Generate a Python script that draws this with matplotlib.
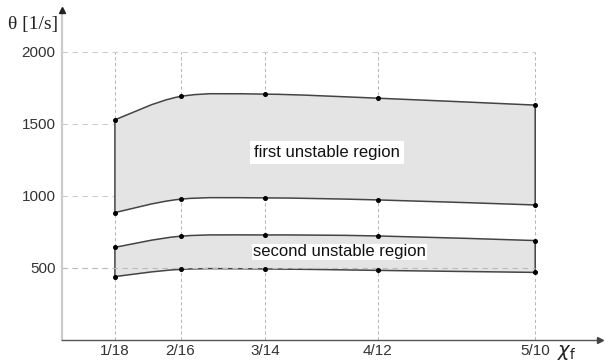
import numpy as np
import matplotlib.pyplot as plt
from matplotlib.path import Path
from matplotlib.patches import PathPatch

# x positions are the ratio values, labels are the fractions
x_labels = ["1/18", "2/16", "3/14", "4/12", "5/10"]
x_vals = [1/18, 2/16, 3/14, 4/12, 5/10]

first_upper = [1528, 1690, 1706, 1678, 1630]
first_lower = [884, 977, 986, 972, 937]
second_upper = [643, 720, 729, 722, 690]
second_lower = [440, 490, 493, 483, 469]

y_ticks = [500, 1000, 1500, 2000]


# smooth curve through the points (catmull-rom as bezier path segments)
def smooth_verts(xs, ys):
    p = np.column_stack([xs, ys]).astype(float)
    ext = np.vstack([p[0], p, p[-1]])
    verts = [p[0]]
    codes = []
    for i in range(len(p) - 1):
        p0, p1, p2, p3 = ext[i], ext[i+1], ext[i+2], ext[i+3]
        c1 = p1 + (p2 - p0) / 6
        c2 = p2 - (p3 - p1) / 6
        verts += [c1, c2, p2]
        codes += [Path.CURVE4] * 3
    return verts, codes


def region(ax, upper, lower):
    vu, cu = smooth_verts(x_vals, upper)
    vl, cl = smooth_verts(x_vals[::-1], lower[::-1])
    verts = vu + vl + [vu[0]]
    codes = [Path.MOVETO] + cu + [Path.LINETO] + cl + [Path.CLOSEPOLY]
    patch = PathPatch(Path(verts, codes), facecolor="#e4e4e4",
                      edgecolor="#444444", lw=1.1, zorder=2)
    ax.add_patch(patch)
    ax.plot(x_vals, upper, "o", color="black", ms=2.6, zorder=4)
    ax.plot(x_vals, lower, "o", color="black", ms=2.6, zorder=4)


fig = plt.figure(figsize=(6.05, 3.62), dpi=100)
ax = fig.add_axes([0.1031, 0.0608, 0.8886, 0.9116])

xmax = 0.5685
ymax = 2290
ax.set_xlim(0, xmax)
ax.set_ylim(0, ymax)

# dashed grid
ax.vlines(x_vals, 0, 2000, colors="#aaaaaa", linestyles=(0, (4, 3)), lw=0.6, zorder=1)
ax.hlines(y_ticks, 0, 0.5, colors="#cccccc", linestyles=(0, (5, 4)), lw=0.8, zorder=1)

region(ax, first_upper, first_lower)
region(ax, second_upper, second_lower)

ax.hlines(y_ticks[:1], 0, 0.5, colors="#bbbbbb", linestyles=(0, (5, 4)), lw=0.8, zorder=3)

ax.text(0.280, 1300, "first unstable region", ha="center", va="center",
        fontsize=12, family="Liberation Sans", color="#111111", zorder=5,
        bbox=dict(facecolor="white", edgecolor="none", pad=3))
ax.text(0.293, 612, "second unstable region", ha="center", va="center",
        fontsize=12, family="Liberation Sans", color="#111111", zorder=5,
        bbox=dict(facecolor="white", edgecolor="none", pad=0.5))

for s in ["top", "right"]:
    ax.spines[s].set_visible(False)
ax.spines["left"].set_color("#cccccc")
ax.spines["left"].set_linewidth(1.6)
ax.spines["bottom"].set_color("#555555")
ax.spines["bottom"].set_linewidth(1.0)

# arrow heads
ax.plot(xmax, 0, ">", color="#444444", ms=5, clip_on=False, zorder=6)
ax.plot(0, ymax, "^", color="#222222", ms=5, clip_on=False, zorder=6)

ax.set_xticks(x_vals)
ax.set_xticklabels(x_labels)
ax.set_yticks(y_ticks)
ax.tick_params(length=0, labelsize=11, colors="#333333")
ax.tick_params(axis="x", pad=3)
ax.tick_params(axis="y", pad=5)
for lab in ax.get_xticklabels() + ax.get_yticklabels():
    lab.set_family("Liberation Sans")

fig.text(8 / 605, 1 - 25 / 362, "θ [1/s]", ha="left", va="center",
         fontsize=14, family="Liberation Serif", color="#222222")
fig.text(557 / 605, 1 - 352 / 362, r"$\chi_\mathrm{f}$", ha="left", va="center",
         fontsize=14, color="#222222")

fig.savefig("out.png", dpi=100)
